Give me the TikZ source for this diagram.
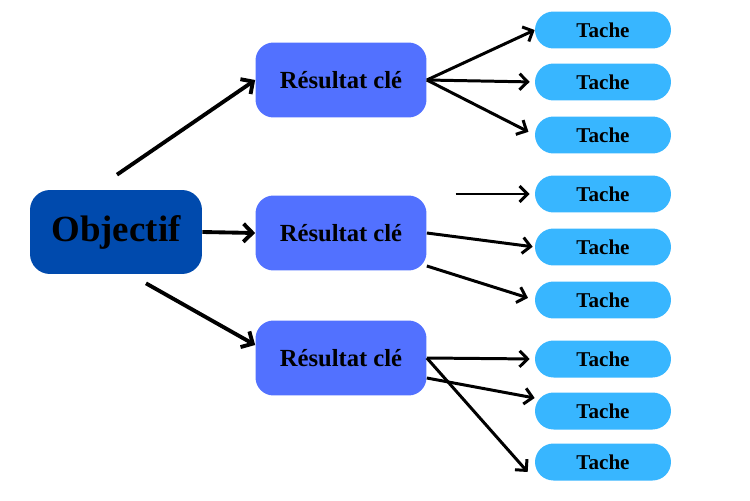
\documentclass[tikz,border=0pt]{standalone}
\usepackage{fontspec}
\setmainfont{Liberation Serif}
\usepackage{tikz}
\usetikzlibrary{arrows.meta,positioning}
\definecolor{objblue}{RGB}{0,74,173}
\definecolor{krblue}{RGB}{82,113,255}
\definecolor{taskblue}{RGB}{56,182,255}

\begin{document}
\begin{tikzpicture}[x=0.02cm, y=-0.02cm,
  objbox/.style={fill=objblue, rounded corners=0.4cm, minimum width=3.44cm, minimum height=1.68cm, font=\fontsize{21}{25}\selectfont\bfseries},
  krbox/.style={fill=krblue, rounded corners=0.36cm, minimum width=3.42cm, minimum height=1.5cm, font=\fontsize{14}{17}\selectfont\bfseries},
  taskbox/.style={fill=taskblue, rounded corners=0.37cm, minimum width=2.72cm, minimum height=0.74cm, font=\fontsize{12}{14}\selectfont\bfseries},
  bigarr/.style={line width=2.2pt, -{Straight Barb[length=1.8mm,width=3.6mm]}},
  arr/.style={line width=1.7pt, -{Straight Barb[length=1.6mm,width=3.2mm]}}]
\useasboundingbox (0,0) rectangle (750,500);
\node[objbox] (obj) at (116,232) {Objectif};
\foreach \k/\y in {1/80, 2/233, 3/358} {\node[krbox] (kr\k) at (341,\y) {Résultat clé};}
\foreach \t/\y in {1/30, 2/82, 3/135, 4/194, 5/247, 6/300, 7/359, 8/411, 9/462} {\node[taskbox] (t\t) at (603,\y) {Tache};}
\draw[bigarr] ([xshift=0.02cm,yshift=0.3cm]obj.north) -- (kr1.west);
\draw[bigarr] (obj.east) -- (kr2.west);
\draw[bigarr] ([xshift=0.6cm,yshift=-0.18cm]obj.south) -- ([yshift=0.26cm]kr3.west);
\draw[arr] (kr1.east) -- (t1.west);
\draw[arr, shorten >=0.1cm] (kr1.east) -- (t2.west);
\draw[arr, shorten >=0.14cm] (kr1.east) -- (t3.west);
\draw[arr, shorten >=0.1cm] ([xshift=-1.58cm]t4.west) -- (t4.west);
\draw[arr, shorten >=0.04cm] (kr2.east) -- (t5.west);
\draw[arr, shorten >=0.14cm] ([yshift=-0.66cm]kr2.east) -- (t6.west);
\draw[arr, shorten >=0.1cm] (kr3.east) -- (t7.west);
\draw[arr] ([yshift=-0.4cm]kr3.east) -- ([yshift=0.26cm]t8.west);
\draw[arr] (kr3.east) -- ([xshift=-0.14cm,yshift=-0.2cm]t9.west);
\end{tikzpicture}
\end{document}
